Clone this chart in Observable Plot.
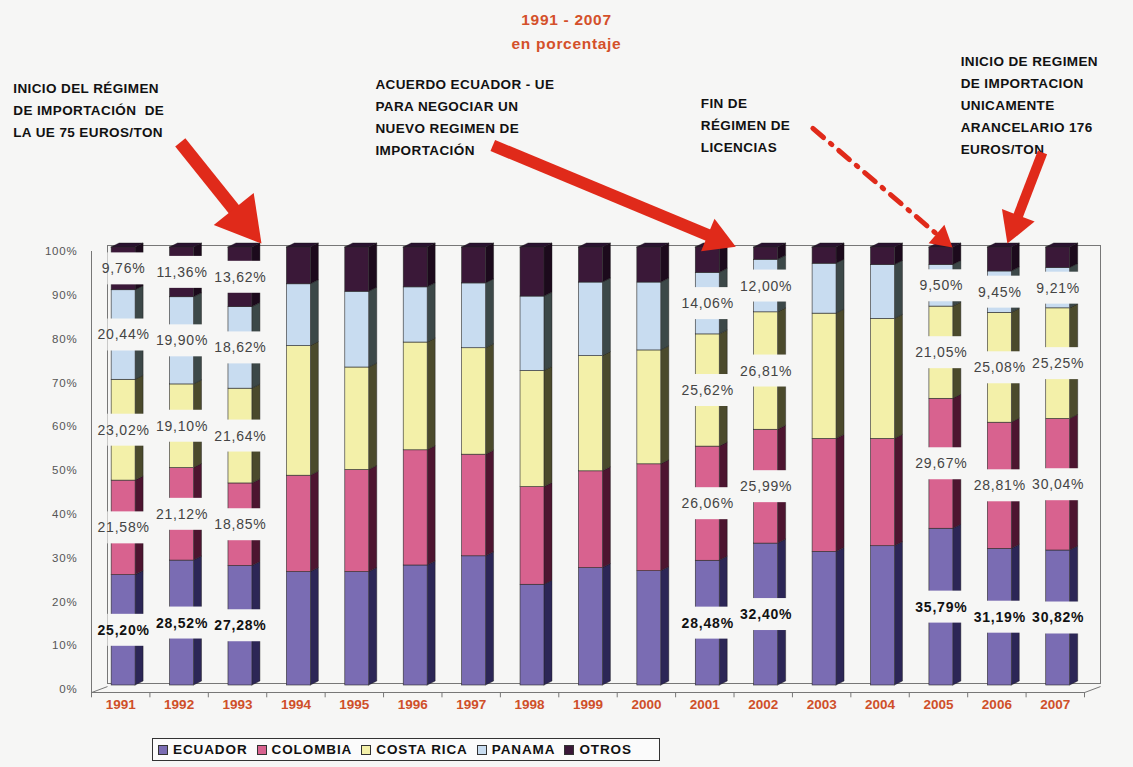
<!DOCTYPE html>
<html>
<head>
<meta charset="utf-8">
<script src="https://cdn.jsdelivr.net/npm/d3@7"></script>
<script src="https://cdn.jsdelivr.net/npm/@observablehq/plot@0.6"></script>
<style>
  html, body { margin: 0; padding: 0; }
  body { width: 1133px; height: 767px; overflow: hidden; position: relative; background: #f6f6f5; font-family: "Liberation Sans", Arial, sans-serif; }
  #title { position: absolute; left: 0; top: 8px; width: 1133px; text-align: center; color: #d4502a; font-weight: bold; font-size: 15.5px; line-height: 24px; letter-spacing: 0.7px; }
  #chart { position: absolute; left: 0; top: 0; }
  #legend { position: absolute; left: 152px; top: 738px; width: 508px; height: 23px; border: 1px solid #333; background: #fbfbfb; display: flex; align-items: center; padding-left: 5px; box-sizing: border-box; }
  .item { display: flex; align-items: center; margin-right: 9px; font-weight: bold; font-size: 13.5px; letter-spacing: 0.9px; color: #111; }
  .sw { width: 8px; height: 8px; border: 1px solid #333; margin-right: 5px; }
</style>
</head>
<body>
<div id="chart"></div>
<div id="title">1991 - 2007<br>en porcentaje</div>
<div id="legend"></div>
<script>
// ---- data ----
const years = [1991, 1992, 1993, 1994, 1995, 1996, 1997, 1998, 1999, 2000, 2001, 2002, 2003, 2004, 2005, 2006, 2007];
const ecuador   = [25.20, 28.52, 27.28, 25.9, 25.9, 27.4, 29.5, 23.0, 26.8, 26.1, 28.48, 32.40, 30.5, 31.8, 35.79, 31.19, 30.82];
const colombia  = [21.58, 21.12, 18.85, 22.0, 23.3, 26.3, 23.2, 22.3, 22.1, 24.4, 26.06, 25.99, 25.8, 24.5, 29.67, 28.81, 30.04];
const costaRica = [23.02, 19.10, 21.64, 29.6, 23.4, 24.6, 24.3, 26.5, 26.3, 26.0, 25.62, 26.81, 28.6, 27.4, 21.05, 25.08, 25.25];
const panama    = [20.44, 19.90, 18.62, 14.1, 17.3, 12.6, 14.8, 17.0, 16.8, 15.5, 14.06, 12.00, 11.4, 12.3, 9.50, 9.45, 9.21];
const otros     = [9.76, 11.36, 13.62, 8.4, 10.1, 9.1, 8.2, 11.2, 8.0, 8.0, 5.78, 2.80, 3.7, 4.0, 3.99, 5.47, 4.68];
const seriesNames = ["ECUADOR", "COLOMBIA", "COSTA RICA", "PANAMA", "OTROS"];
const frontColors = ["#7a6cb3", "#d8628f", "#f3f0a9", "#c8dcf0", "#3a1838"];
const sideColors  = ["#2c2656", "#4d1530", "#4b4a2c", "#3c4848", "#1c0a1c"];
const yTicks = [0, 10, 20, 30, 40, 50, 60, 70, 80, 90, 100];
const labeledAllYears = [1991, 1992, 1993];      // all five segments labelled
const labeledFourYears = [2001, 2002, 2005, 2006, 2007]; // Otros not labelled

// annotations
const noteText = [
  "INICIO DEL RÉGIMEN\nDE IMPORTACIÓN  DE\nLA UE 75 EUROS/TON",
  "ACUERDO ECUADOR - UE\nPARA NEGOCIAR UN\nNUEVO REGIMEN DE\nIMPORTACIÓN",
  "FIN DE\nRÉGIMEN DE\nLICENCIAS",
  "INICIO DE REGIMEN\nDE IMPORTACION\nUNICAMENTE\nARANCELARIO 176\nEUROS/TON"
];
const noteX = [1989.16, 1995.36, 2000.93, 2005.38];
const noteY = [139.7, 140.6, 136.3, 145.9];
// arrows: tail (x1,y1) -> tip (x2,y2)
const arrowX1 = [1992.02, 1997.37, 2002.85, 2006.78];
const arrowY1 = [124.9, 124.2, 128.1, 122.6];
const arrowX2 = [1993.41, 2001.53, 2005.24, 2006.18];
const arrowY2 = [101.8, 101.1, 100.9, 101.8];
const arrowHead = [19, 13, 9, 13];
const arrowWidth = [13, 12, 5, 10];
const arrowDashed = [false, false, true, false];

// ---- geometry ----
const W = 1133, H = 720;
const X0 = 91, X1 = 1084, Y0 = 689, Y1 = 251;
const xs = d3.scaleLinear([1990.5, 2007.5], [X0, X1]);
const ys = d3.scaleLinear([0, 100], [Y0, Y1]);
const FL = -0.155, FR = 0.255;           // front face offsets (years)
const SIDE = 8 / 58.4;                   // side depth (years)
const SKEW = 4 / 4.38;                   // side skew (percent)
const LIFT = -4;                         // bars sit at back of floor

const values = [ecuador, colombia, costaRica, panama, otros];
const segs = [];
years.forEach((yr, i) => {
  let acc = 0;
  values.forEach((arr, k) => {
    const v = arr[i];
    segs.push({year: yr, k, lo: acc, hi: acc + v, v});
    acc += v;
  });
});
const sidePts = [];
segs.forEach((s, j) => {
  sidePts.push({id: j, k: s.k, x: s.year + FR, y1: s.lo, y2: s.hi});
  sidePts.push({id: j, k: s.k, x: s.year + FR + SIDE, y1: s.lo + SKEW, y2: s.hi + SKEW});
});
const topPts = [];
years.forEach(yr => {
  const t = 100;
  topPts.push({yr, x: yr + FL, y1: t, y2: t});
  topPts.push({yr, x: yr + FL + SIDE, y1: t, y2: t + SKEW});
  topPts.push({yr, x: yr + FR, y1: t, y2: t + SKEW});
  topPts.push({yr, x: yr + FR + SIDE, y1: t + SKEW, y2: t + SKEW});
});
const labSegs = segs.filter(s => labeledAllYears.includes(s.year) || (labeledFourYears.includes(s.year) && s.k < 4));
const mid = s => (s.lo + s.hi) / 2;
const fmt = v => d3.format(".2f")(v).replace(".", ",") + "%";
const boundaries = d3.range(1990.5, 2008, 1);

// arrows geometry
const arrows = arrowX1.map((x1, i) => {
  const px1 = xs(x1), py1 = ys(arrowY1[i]), px2 = xs(arrowX2[i]), py2 = ys(arrowY2[i]);
  const dx = px2 - px1, dy = py2 - py1, len = Math.hypot(dx, dy);
  const r = arrowHead[i];
  const tipDist = 2 * Math.sqrt(r * r * Math.PI / (3 * Math.sqrt(3)));
  const cx = px2 - dx / len * tipDist, cy = py2 - dy / len * tipDist;
  return {
    x1, y1: arrowY1[i], cx: xs.invert(cx), cy: ys.invert(cy),
    rot: Math.atan2(dx, -dy) * 180 / Math.PI, r, w: arrowWidth[i], dashed: arrowDashed[i]
  };
});
const solid = arrows.filter(a => !a.dashed), dashed = arrows.filter(a => a.dashed);

const notes = noteText.map((t, i) => ({t, x: noteX[i], y: noteY[i]}));

const plot = Plot.plot({
  width: W, height: H,
  marginLeft: X0, marginRight: W - X1, marginTop: Y1, marginBottom: H - Y0,
  style: {background: "transparent", fontFamily: "'Liberation Sans', Arial, sans-serif", fontSize: "11.5px", color: "#555"},
  x: {domain: [1990.5, 2007.5], axis: null},
  y: {domain: [0, 100], ticks: yTicks, tickFormat: d => d + "%", tickSize: 0, tickPadding: 14, label: null},
  r: {type: "identity"},
  marks: [
    Plot.frame({stroke: "#777", dx: 16, dy: -6}),
    Plot.ruleY([0], {stroke: "#777", dy: 3}),
    Plot.ruleX([1990.5], {stroke: "#777", y1: -0.7, y2: 100}),
    Plot.link([{a: 1990.5, b: 1990.5 + 16 / 58.4}, {a: 2007.5, b: 2007.5 + 16 / 58.4}],
      {x1: "a", x2: "b", y1: -0.7, y2: 6 / 4.38 - 0.7, stroke: "#777"}),
    Plot.ruleX(boundaries, {y1: -0.7, y2: -1.9, stroke: "#777"}),
    // 3D sides and tops
    Plot.areaY(sidePts, {x: "x", y1: "y1", y2: "y2", z: "id", fill: d => sideColors[d.k], stroke: "#111", strokeWidth: 0.4, dy: LIFT}),
    Plot.areaY(topPts, {x: "x", y1: "y1", y2: "y2", z: "yr", fill: "#2a1230", stroke: "#111", strokeWidth: 0.4, dy: LIFT}),
    // front faces
    Plot.rect(segs, {x1: d => d.year + FL, x2: d => d.year + FR, y1: "lo", y2: "hi", fill: d => frontColors[d.k], stroke: "#2a2a2a", strokeWidth: 0.6, dy: LIFT}),
    // label gaps
    Plot.rect(labSegs, {x1: d => d.year - 0.22, x2: d => d.year + 0.47, y1: d => mid(d) - 3.65, y2: d => mid(d) + 3.65, fill: "#f6f6f5", dy: LIFT}),
    Plot.text(labSegs.filter(d => d.k === 0), {x: d => d.year + 0.05, y: mid, text: d => fmt(d.v), dy: LIFT, fill: "#111", fontWeight: "bold", fontSize: 14}),
    Plot.text(labSegs.filter(d => d.k > 0), {x: d => d.year + 0.05, y: mid, text: d => fmt(d.v), dy: LIFT, fill: "#444", fontSize: 14}),
    // year labels
    Plot.text(years, {x: d => d, y: 0, dy: 15, text: d => String(d), fill: "#cf4f29", fontWeight: "bold", fontSize: 13.5}),
    // annotations
    Plot.text(notes, {x: "x", y: "y", text: "t", textAnchor: "start", lineAnchor: "top", lineHeight: 1.63, fontSize: 13.5, fontWeight: "bold", fill: "#111"}),
    Plot.link(solid, {x1: "x1", y1: "y1", x2: "cx", y2: "cy", stroke: "#e02a1a", strokeWidth: d => d.w}),
    Plot.link(dashed, {x1: "x1", y1: "y1", x2: "cx", y2: "cy", stroke: "#e02a1a", strokeWidth: d => d.w, strokeDasharray: "14,9,2,9", strokeLinecap: "round"}),
    Plot.dot(arrows, {x: "cx", y: "cy", symbol: "triangle", r: "r", rotate: "rot", fill: "#e02a1a", stroke: "none"})
  ]
});
document.getElementById("chart").appendChild(plot);
d3.select(plot).selectAll("text").filter(function () { return /%$/.test(this.textContent); }).style("letter-spacing", "0.8px");
d3.select(plot).selectAll("text").filter(function () { return /[A-Z]{3}/.test(this.textContent); }).style("letter-spacing", "0.4px");

// legend
const legend = document.getElementById("legend");
seriesNames.forEach((s, k) => {
  const it = document.createElement("div");
  it.className = "item";
  const sw = document.createElement("span");
  sw.className = "sw";
  sw.style.background = frontColors[k];
  it.appendChild(sw);
  it.appendChild(document.createTextNode(s));
  legend.appendChild(it);
});
</script>
</body>
</html>
